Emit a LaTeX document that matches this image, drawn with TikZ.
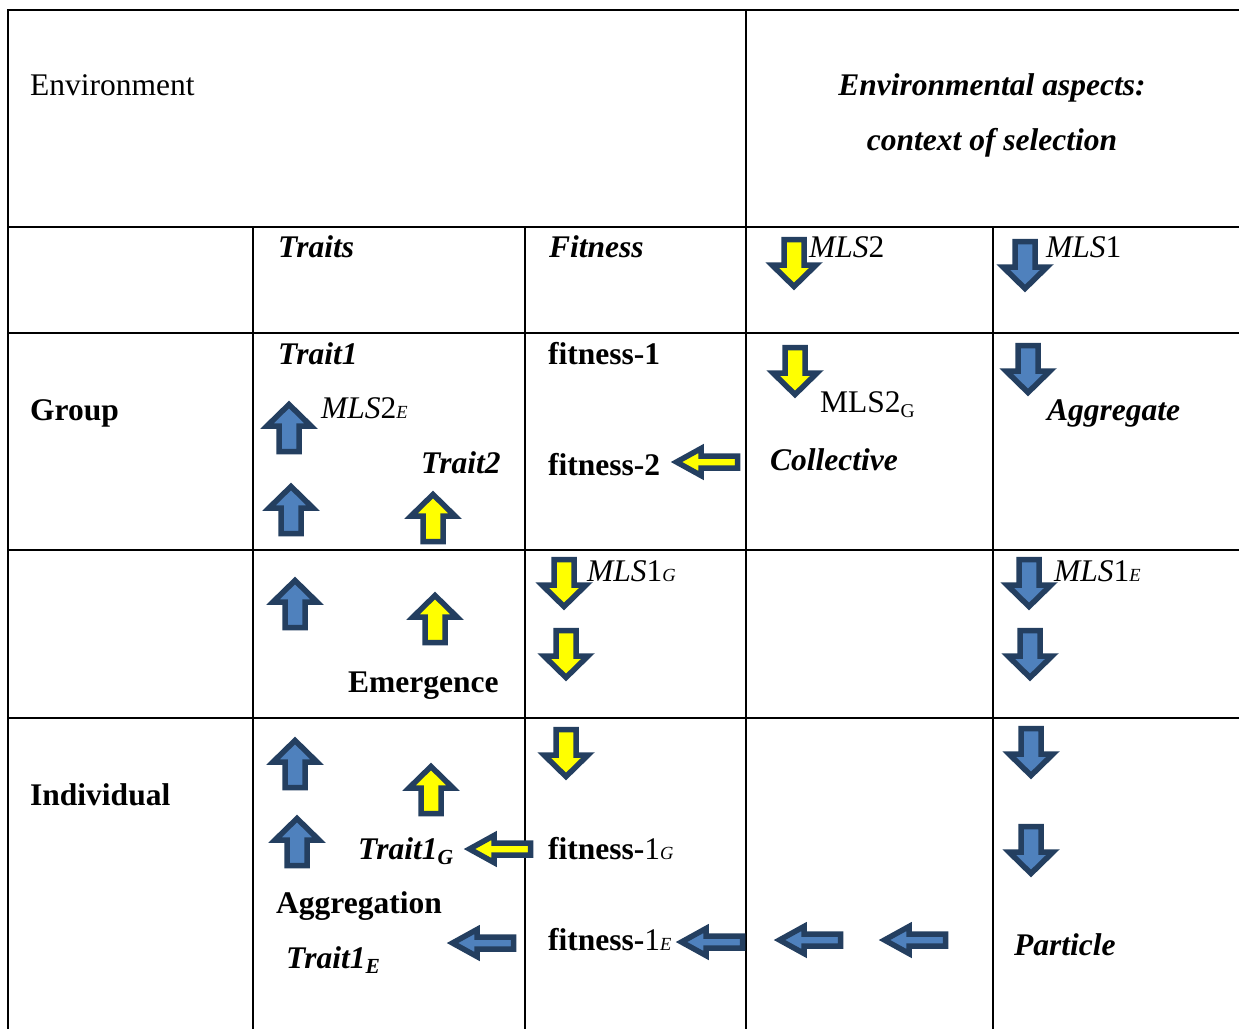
\documentclass[tikz,border=0pt]{standalone}
\usepackage{fontspec}
\setmainfont{Liberation Serif}
\definecolor{navy}{HTML}{243F60}
\definecolor{steel}{HTML}{4F81BD}
\definecolor{yel}{HTML}{FFFF00}
\newcommand{\vblk}[4]{\draw[#4, shift={(#1,#2)}, rotate=#3] (-23.5,-10) -- (2,-10) -- (2,-22) -- (23.5,0) -- (2,22) -- (2,10) -- (-23.5,10) -- cycle;}
\newcommand{\hblk}[3]{\draw[#3, shift={(#1,#2)}, rotate=180] (-30.5,-6) -- (6,-6) -- (6,-13.5) -- (30.5,0) -- (6,13.5) -- (6,6) -- (-30.5,6) -- cycle;}
\newcommand{\smit}[1]{{\fontsize{18.5}{18}\selectfont\itshape #1}}
\newcommand{\subbi}[1]{\raisebox{-5pt}{\fontsize{21.5}{21}\selectfont\bfseries\itshape #1}}
\newcommand{\subup}[1]{\raisebox{-5pt}{\fontsize{19.5}{19}\selectfont #1}}
\begin{document}
\begin{tikzpicture}[x=1pt,y=-1pt,
  gridline/.style={line width=2.5pt, line cap=rect},
  txt/.style={inner sep=0pt, anchor=base west, font=\fontsize{31.5}{36}\selectfont},
  ctxt/.style={inner sep=0pt, anchor=base, font=\fontsize{31.5}{36}\selectfont},
  bluearr/.style={draw=navy, fill=steel, line width=5.5pt, line join=miter},
  yelarr/.style={draw=navy, fill=yel, line width=5.5pt, line join=miter}]
\useasboundingbox (0,0) rectangle (1239,1028);
% grid
\draw[gridline] (8,10) -- (1239,10);
\foreach \yy in {227,333,550,718} {\draw[gridline] (8,\yy) -- (1239,\yy);}
\draw[gridline] (8,10) -- (8,1030);
\draw[gridline] (746,10) -- (746,1030);
\foreach \xx in {253,525,993} {\draw[gridline] (\xx,227) -- (\xx,1030);}
% header
\node[txt] (env) at (30,95) {Environment};
\node[ctxt] (ea) at (992,95) {\bfseries\itshape Environmental aspects:};
\node[ctxt] (cs) at (992,150) {\bfseries\itshape context of selection};
% row 2
\node[txt] (traits) at (278,257) {\bfseries\itshape Traits};
\node[txt] (fit) at (549,257) {\bfseries\itshape Fitness};
\node[txt] (mls2) at (809,257) {\textit{MLS}2};
\node[txt] (mls1) at (1046,257) {\textit{MLS}1};
\vblk{794}{263}{-90}{yelarr}
\vblk{1025}{265}{-90}{bluearr}
% row 3 (Group)
\node[txt] (group) at (30,420) {\bfseries Group};
\node[txt] (trait1) at (278,364) {\bfseries\itshape Trait1};
\node[txt] (mls2e) at (321,418) {\textit{MLS}2\smit{E}};
\node[txt] (trait2) at (421,473) {\bfseries\itshape Trait2};
\vblk{289}{428}{90}{bluearr}
\vblk{291}{510}{90}{bluearr}
\vblk{433}{518}{90}{yelarr}
\node[txt] (f1) at (548,364) {\bfseries fitness-1};
\node[txt] (f2) at (548,475) {\bfseries fitness-2};
\hblk{707}{462}{yelarr}
\vblk{795}{371}{-90}{yelarr}
\node[txt] (mls2g) at (820,412) {MLS2\subup{G}};
\node[txt] (coll) at (770,470) {\bfseries\itshape Collective};
\vblk{1028}{369}{-90}{bluearr}
\node[txt] (aggr) at (1047,420) {\bfseries\itshape Aggregate};
% row 4
\vblk{295}{604}{90}{bluearr}
\vblk{435}{619}{90}{yelarr}
\node[txt] (emer) at (348,692) {\bfseries Emergence};
\vblk{564}{583}{-90}{yelarr}
\node[txt] (mls1g) at (587,581) {\textit{MLS}1\smit{G}};
\vblk{566}{654}{-90}{yelarr}
\vblk{1029}{583}{-90}{bluearr}
\node[txt] (mls1e) at (1054,581) {\textit{MLS}1\smit{E}};
\vblk{1030}{654}{-90}{bluearr}
% row 5 (Individual)
\node[txt] (indiv) at (30,805) {\bfseries Individual};
\vblk{295}{764}{90}{bluearr}
\vblk{431}{790}{90}{yelarr}
\vblk{297}{842}{90}{bluearr}
\node[txt] (t1g) at (358,859) {\bfseries\itshape Trait1\subbi{G}};
\hblk{500}{849}{yelarr}
\node[txt] (aggn) at (276,913) {\bfseries Aggregation};
\hblk{483}{943}{bluearr}
\node[txt] (t1e) at (286,968) {\bfseries\itshape Trait1\subbi{E}};
\vblk{566}{753}{-90}{yelarr}
\node[txt] (f1g) at (548,859) {\textbf{fitness-}1\smit{G}};
\node[txt] (f1e) at (548,950) {\textbf{fitness-}1\smit{E}};
\hblk{712}{942}{bluearr}
\hblk{810}{940}{bluearr}
\hblk{915}{940}{bluearr}
\vblk{1031}{752}{-90}{bluearr}
\vblk{1031}{850}{-90}{bluearr}
\node[txt] (part) at (1014,955) {\bfseries\itshape Particle};
\end{tikzpicture}
\end{document}
